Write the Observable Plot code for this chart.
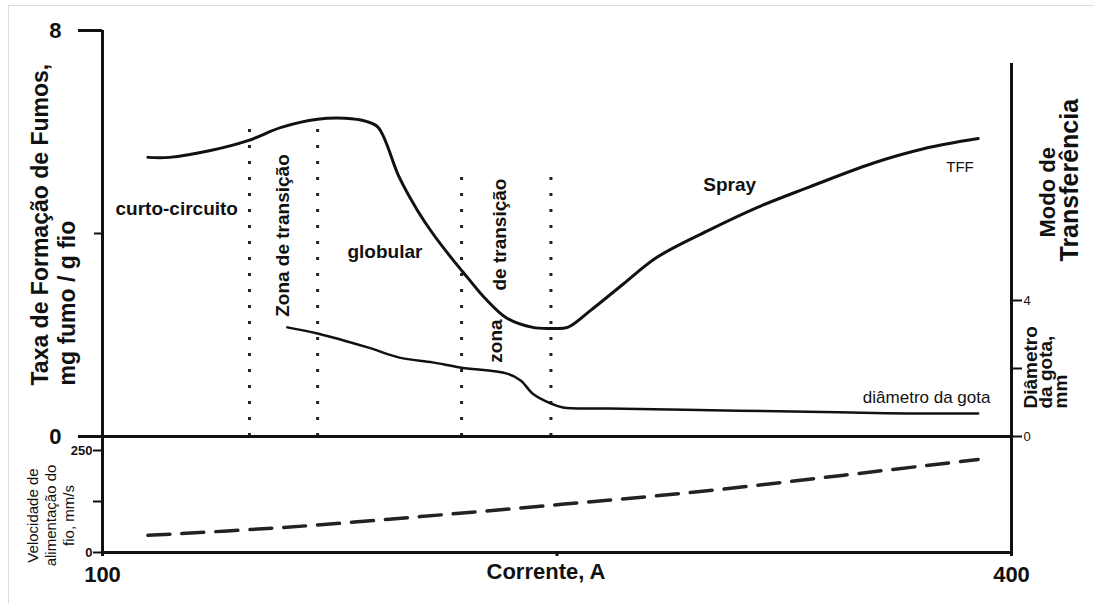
<!DOCTYPE html>
<html><head><meta charset="utf-8">
<script src="https://cdn.jsdelivr.net/npm/d3@7"></script>
<script src="https://cdn.jsdelivr.net/npm/@observablehq/plot@0.6"></script>
<style>
html,body{margin:0;padding:0;background:#fff;}
#chart{position:relative;width:1094px;height:603px;overflow:hidden;background:#fff;}
#chart svg{position:absolute;left:0;top:0;background:transparent;overflow:visible;}
#border{position:absolute;left:8px;top:5px;width:1200px;height:700px;border-left:1.5px solid #dcdcdc;border-top:1.5px solid #dcdcdc;}
</style></head>
<body><div id="chart"><div id="border"></div></div>
<script>
// ---- data ----
const tffCurrent = [115,122,136,148,159,171,180,187,191,198,204,209,215,220.5,226,233.5,242,248,253.5,261,272,283,300,316,333,354,371,389];
const tffRate    = [5.50,5.50,5.64,5.83,6.09,6.25,6.27,6.21,6.09,5.10,4.45,4.00,3.53,3.13,2.74,2.33,2.15,2.13,2.15,2.48,3.01,3.53,4.06,4.51,4.91,5.38,5.67,5.87];

const dropCurrent  = [161,171,187.5,198,209,218,233.5,238,242,248,252,267,310,343,366,389];
const dropDiameter = [3.21,3.03,2.62,2.32,2.18,2.03,1.85,1.65,1.26,0.97,0.85,0.82,0.76,0.71,0.68,0.68];

const wireCurrent = [115,159,205,251.5,298,344,389];
const wireSpeed   = [42,61,88,118,150,189,228];

const zoneCurrent = [148.5,171,218.5,248];
const zoneTop     = [6.23,6.23,5.30,5.30];

const regionText    = ["curto-circuito","Zona de transição","globular","de transição","zona","Spray"];
const regionCurrent = [124.5,159.7,193.2,231.3,229.7,307];
const regionRate    = [4.49,3.96,3.63,3.98,1.88,4.95];
const regionRotate  = [0,-90,0,-90,-90,0];

const tffTicks = [0,4,8];
const dropTicks = [0,2,4];
const wireTicks = [0,125,250];
const currentTicks = [100,250,400];

// ---- layout ----
const W = 1094, H = 603;
const FONT = "'Liberation Sans', Arial, sans-serif";
const INK = "#111";
const base = {width: W, height: H, marginLeft: 102, marginRight: 83,
  style: {background: "transparent", fontFamily: FONT, overflow: "visible", color: INK}};
const xs = {domain: [100, 400], axis: null};
const idx = d3.range(regionText.length);

const tffData = tffCurrent.map((c, i) => ({c, v: tffRate[i]}));
const dropData = dropCurrent.map((c, i) => ({c, v: dropDiameter[i]}));
const wireData = wireCurrent.map((c, i) => ({c, v: wireSpeed[i]}));

// one rotated line of text, positioned from a frame anchor
const vText = (s, frameAnchor, dx, dy, textAnchor, fontSize, fontWeight = "normal") =>
  Plot.text([s], {text: d => d, frameAnchor, dx, dy, rotate: -90, textAnchor,
    fontSize, fontWeight, fill: INK});

// Top panel, left axis (fume formation rate)
const p1 = Plot.plot({...base, marginTop: 30, marginBottom: 167,
  x: xs, y: {domain: [0, 8], axis: null},
  marks: [
    Plot.ruleX(zoneCurrent, {x: d => d, y1: 0, y2: (d, i) => zoneTop[i], stroke: "#222",
      strokeWidth: 3, strokeDasharray: "3,13"}),
    Plot.line(tffData, {x: "c", y: "v", curve: "catmull-rom", stroke: INK, strokeWidth: 3}),
    Plot.text(idx, {x: i => regionCurrent[i], y: i => regionRate[i], text: i => regionText[i],
      rotate: i => regionRotate[i], fontSize: 19, fontWeight: "bold", fill: INK}),
    Plot.text(["TFF"], {x: 383, y: 5.3, text: d => d, fontSize: 15, fill: INK}),
    Plot.ruleX([100], {stroke: INK, strokeWidth: 3}),
    Plot.ruleY([0], {stroke: INK, strokeWidth: 3}),
    Plot.axisY(tffTicks.filter(t => t !== 4), {anchor: "left", tickSize: 24, tickPadding: 17,
      tickFormat: d => String(d), strokeWidth: 3, fontSize: 22, fontWeight: "bold", label: null,
      stroke: INK, fill: INK}),
    Plot.axisY([4], {anchor: "left", tickSize: 8, tickFormat: () => "", label: null, strokeWidth: 2, stroke: INK}),
    vText("Taxa de Formação de Fumos,", "bottom-left", -55, -51, "start", 23, "bold"),
    vText("mg fumo / g fio", "bottom-left", -28, -51, "start", 23, "bold")
  ]});

// Right axis (droplet diameter)
const p2 = Plot.plot({...base, marginTop: 63, marginBottom: 167,
  x: xs, y: {domain: [0, 4], range: [436, 300], axis: null},
  marks: [
    Plot.line(dropData, {x: "c", y: "v", curve: "catmull-rom", stroke: INK, strokeWidth: 2.5}),
    Plot.text(["diâmetro da gota"], {x: 372, y: 1.15, text: d => d, fontSize: 17, fill: INK}),
    Plot.ruleX([400], {stroke: INK, strokeWidth: 3}),
    Plot.axisY(dropTicks, {anchor: "right", tickSize: 10, tickPadding: 2,
      tickFormat: d => d === 2 ? "" : String(d), fontSize: 13, label: null, strokeWidth: 2, stroke: INK, fill: INK}),
    vText("Diâmetro", "bottom-right", 25, -28, "start", 19, "bold"),
    vText("da gota,", "bottom-right", 40, -28, "start", 19, "bold"),
    vText("mm", "bottom-right", 55, -28, "start", 19, "bold"),
    vText("Modo de", "bottom-right", 43, -199, "start", 22, "bold"),
    vText("Transferência", "bottom-right", 66, -175, "start", 25, "bold")
  ]});

// Bottom panel (wire feed speed)
const p3 = Plot.plot({...base, marginTop: 436, marginBottom: 51,
  x: xs, y: {domain: [0, 250], range: [552, 450], axis: null},
  marks: [
    Plot.line(wireData, {x: "c", y: "v", curve: "catmull-rom", stroke: "#222", strokeWidth: 3.5,
      strokeDasharray: "22,12"}),
    Plot.ruleX([100, 400], {stroke: INK, strokeWidth: 3}),
    Plot.ruleY([0], {stroke: INK, strokeWidth: 3}),
    Plot.axisY(wireTicks, {anchor: "left", tickSize: 9, tickPadding: 1,
      tickFormat: d => d === 125 ? "" : String(d), fontSize: 13, fontWeight: "bold", label: null,
      strokeWidth: 2, stroke: INK, fill: INK}),
    Plot.axisX(currentTicks, {anchor: "bottom", tickSize: 4, tickPadding: 10,
      tickFormat: d => d === 250 ? "" : String(d), fontSize: 22, fontWeight: "bold", label: null,
      strokeWidth: 3, stroke: INK, fill: INK}),
    Plot.text(["Corrente, A"], {frameAnchor: "bottom", dx: -11, dy: 26, fontSize: 22,
      fontWeight: "bold", fill: INK, text: d => d}),
    vText("Velocidade de", "left", -69, 21, "middle", 15),
    vText("alimentação do", "left", -51, 21, "middle", 15),
    vText("fio, mm/s", "left", -33, 21, "middle", 15)
  ]});

const chart = document.getElementById("chart");
chart.append(p1, p2, p3);
</script>
</body></html>
